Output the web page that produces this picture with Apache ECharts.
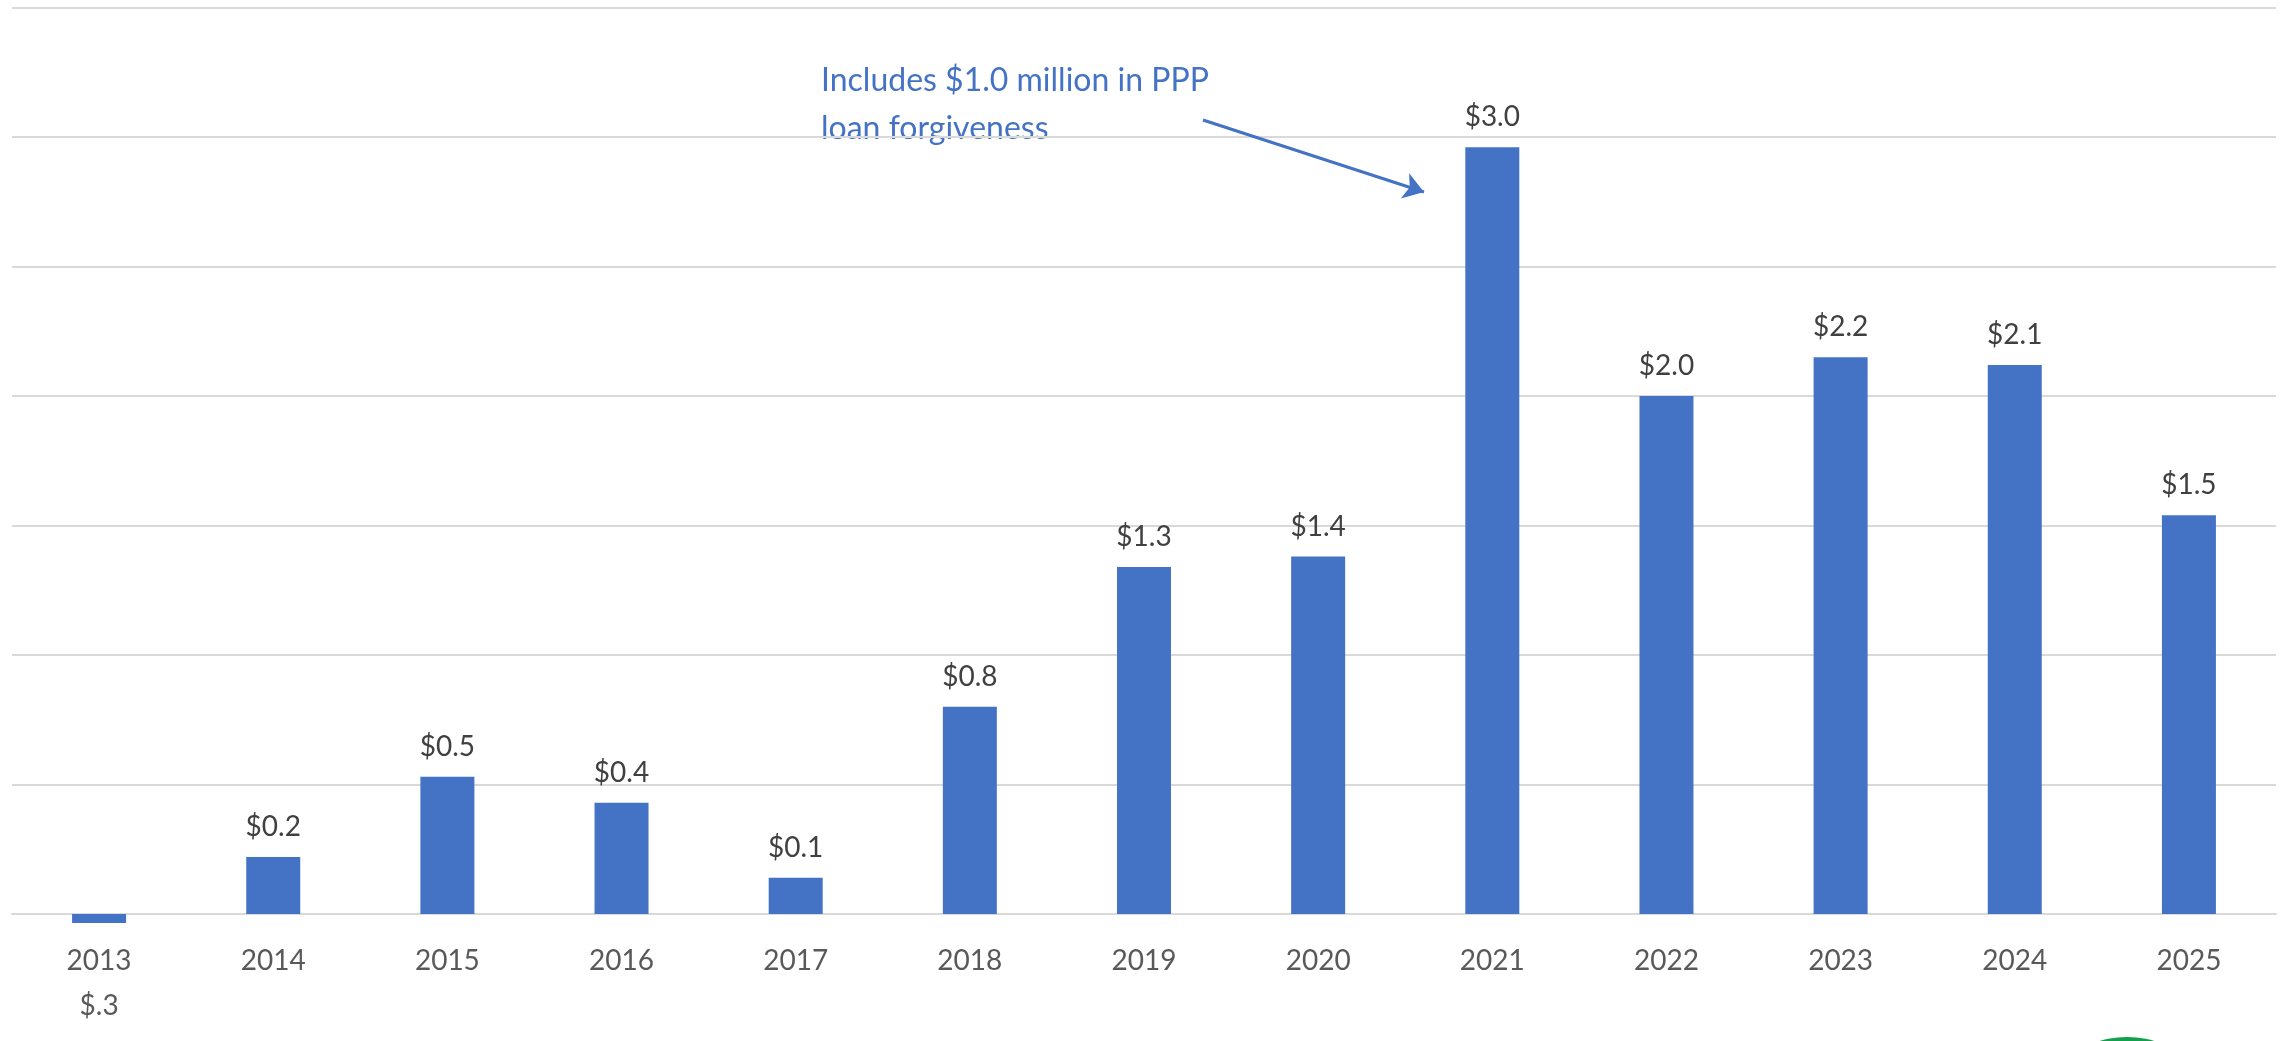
<!DOCTYPE html>
<html>
<head>
<meta charset="utf-8">
<title>Net income by year</title>
<script src="https://cdn.jsdelivr.net/npm/echarts@6/dist/echarts.min.js"></script>
<style>
    html, body { margin: 0; padding: 0; background: #fff; }
    #main { width: 2290px; height: 1041px; }
</style>
</head>
<body>
<div id="main"></div>
<script>
var years = ['2013', '2014', '2015', '2016', '2017', '2018', '2019', '2020', '2021', '2022', '2023', '2024', '2025'];
var income = [-0.035, 0.22, 0.53, 0.43, 0.14, 0.80, 1.34, 1.38, 2.96, 2.00, 2.15, 2.12, 1.54];
var barLabels = ['$.3', '$0.2', '$0.5', '$0.4', '$0.1', '$0.8', '$1.3', '$1.4', '$3.0', '$2.0', '$2.2', '$2.1', '$1.5'];
var note = ['Includes $1.0 million in PPP', 'loan forgiveness'];

var font = 'Lato, "Liberation Sans", sans-serif';
var myChart = echarts.init(document.getElementById('main'));

var option = {
    animation: false,
    grid: {
        left: 12,
        right: 14,
        top: 7.5,
        bottom: 127
    },
    xAxis: {
        type: 'category',
        data: years,
        axisLine: {
            lineStyle: { color: '#D9D9D9', width: 2 }
        },
        axisTick: { show: false },
        axisLabel: {
            color: '#595959',
            fontFamily: font,
            fontSize: 28,
            lineHeight: 45,
            margin: 24,
            formatter: function(v, i) {
                // the negative year carries its value under the year
                if (income[i] < 0) {
                    return v + '\n' + barLabels[i];
                }
                return v;
            }
        }
    },
    yAxis: {
        type: 'value',
        min: 0,
        max: 3.5,
        interval: 0.5,
        axisLabel: { show: false },
        axisLine: { show: false },
        axisTick: { show: false },
        splitLine: {
            lineStyle: { color: '#D9D9D9', width: 2 }
        }
    },
    series: [{
        type: 'bar',
        data: income,
        barWidth: 54,
        clip: false,
        itemStyle: { color: '#4472C4' },
        label: {
            show: true,
            position: 'top',
            distance: 16,
            color: '#404040',
            fontFamily: font,
            fontSize: 28,
            formatter: function(p) {
                return p.value < 0 ? '' : barLabels[p.dataIndex];
            }
        },
        markLine: {
            silent: true,
            symbol: ['none', 'arrow'],
            symbolSize: 20,
            label: { show: false },
            lineStyle: { color: '#4472C4', width: 3, type: 'solid' },
            data: [
                [{ x: 1203, y: 120 }, { x: 1424, y: 192 }]
            ]
        }
    }],
    graphic: [{
        type: 'text',
        left: 821,
        top: 57,
        style: {
            text: note.join('\n'),
            fill: '#4472C4',
            font: '32px ' + font,
            lineHeight: 48
        }
    }, {
        type: 'circle',
        shape: { cx: 2127, cy: 1133, r: 96 },
        style: { fill: '#12A04A' }
    }]
};

myChart.setOption(option);
</script>
</body>
</html>
